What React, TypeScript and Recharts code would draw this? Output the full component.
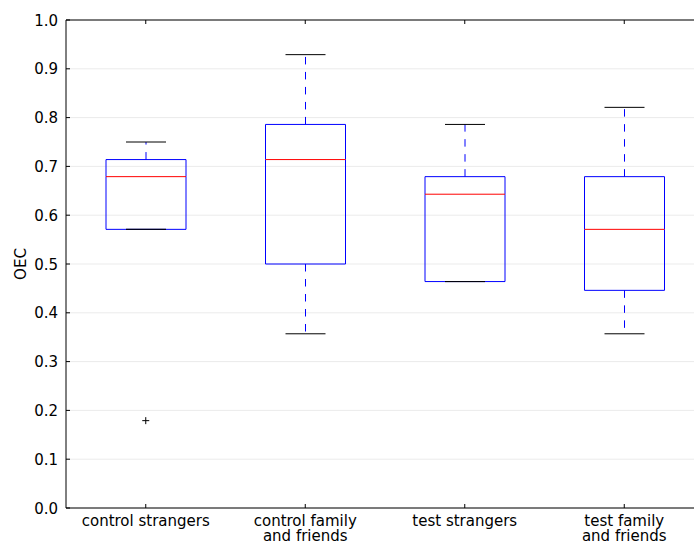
// Box plot of OEC by group (recharts, stacked bars drawn as boxes)
import React from 'react';
import { ComposedChart, Bar, Scatter, XAxis, YAxis, CartesianGrid } from 'recharts';

const categories = [
  'control strangers',
  'control family\nand friends',
  'test strangers',
  'test family\nand friends',
];
const whiskerLow = [0.571, 0.357, 0.464, 0.357];
const q1 = [0.571, 0.5, 0.464, 0.446];
const median = [0.679, 0.714, 0.643, 0.571];
const q3 = [0.714, 0.786, 0.679, 0.679];
const whiskerHigh = [0.75, 0.929, 0.786, 0.821];
const outliers: (number | null)[] = [0.179, null, null, null];
const yTicks = [0, 0.1, 0.2, 0.3, 0.4, 0.5, 0.6, 0.7, 0.8, 0.9, 1.0];

const BLUE = '#0000ff';
const RED = '#ff0000';
const INK = '#000000';
const GRID = '#ebebeb';
const FONT = '"DejaVu Sans", sans-serif';
const TICK_SIZE = 6;
const TICK_MARGIN = 2;
const INNER_TICK = 4;
const DASH = '7.5 7.5';

const rows = categories.map((name, i) => ({
  name,
  base: whiskerLow[i],
  lowWhisker: q1[i] - whiskerLow[i],
  lowBox: median[i] - q1[i],
  highBox: q3[i] - median[i],
  highWhisker: whiskerHigh[i] - q3[i],
  outlier: outliers[i],
}));

const Empty = () => <g />;

// min -> Q1, dash starts at the box
const LowWhisker = ({ x, y, width, height }: any) => {
  const cx = x + width / 2;
  return (
    <g>
      {height > 0 && (
        <line x1={cx} x2={cx} y1={y} y2={y + height} stroke={BLUE} strokeDasharray={DASH} />
      )}
      <line x1={cx - width / 4} x2={cx + width / 4} y1={y + height} y2={y + height} stroke={INK} />
    </g>
  );
};

// Q1 -> median (no top edge, the median line sits there)
const LowBox = ({ x, y, width, height, payload }: any) => {
  const cx = x + width / 2;
  const b = y + height;
  return (
    <g>
      <path d={`M${x},${y} L${x},${b} L${x + width},${b} L${x + width},${y}`} fill="none" stroke={BLUE} />
      {payload && payload.lowWhisker <= 0 && (
        <line x1={cx - width / 4} x2={cx + width / 4} y1={b} y2={b} stroke={INK} />
      )}
    </g>
  );
};

// median -> Q3, median line on the bottom edge
const HighBox = ({ x, y, width, height }: any) => {
  const b = y + height;
  return (
    <g>
      <path d={`M${x},${b} L${x},${y} L${x + width},${y} L${x + width},${b}`} fill="none" stroke={BLUE} />
      <line x1={x} x2={x + width} y1={b} y2={b} stroke={RED} />
    </g>
  );
};

// Q3 -> max
const HighWhisker = ({ x, y, width, height }: any) => {
  const cx = x + width / 2;
  return (
    <g>
      {height > 0 && (
        <line x1={cx} x2={cx} y1={y + height} y2={y} stroke={BLUE} strokeDasharray={DASH} />
      )}
      <line x1={cx - width / 4} x2={cx + width / 4} y1={y} y2={y} stroke={INK} />
    </g>
  );
};

const Flier = ({ cx, cy, payload }: any) => {
  if (!payload || payload.outlier == null) return <g />;
  return (
    <g stroke={INK}>
      <line x1={cx - 3.5} x2={cx + 3.5} y1={cy} y2={cy} />
      <line x1={cx} x2={cx} y1={cy - 3.5} y2={cy + 3.5} />
    </g>
  );
};

const XTick = ({ x, y, payload }: any) => {
  const axisY = y - TICK_SIZE - TICK_MARGIN;
  const lines = String(payload.value).split('\n');
  return (
    <g>
      <line x1={x} x2={x} y1={axisY} y2={axisY - INNER_TICK} stroke={INK} />
      <text textAnchor="middle" fontFamily={FONT} fontSize={15} fill={INK}>
        {lines.map((l, i) => (
          <tspan key={i} x={x} y={axisY + 17.5 + i * 15}>{l}</tspan>
        ))}
      </text>
    </g>
  );
};

const TopTick = ({ x, y }: any) => {
  const axisY = y + TICK_SIZE + TICK_MARGIN;
  return <line x1={x} x2={x} y1={axisY} y2={axisY + INNER_TICK} stroke={INK} />;
};

const YTick = ({ x, y, payload }: any) => {
  const axisX = x + TICK_SIZE + TICK_MARGIN;
  return (
    <g>
      <line x1={axisX} x2={axisX + INNER_TICK} y1={y} y2={y} stroke={INK} />
      <text x={x} y={y + 5.5} textAnchor="end" fontFamily={FONT} fontSize={15} fill={INK}>
        {Number(payload.value).toFixed(1)}
      </text>
    </g>
  );
};

const OecLabel = ({ viewBox }: any) => {
  const cx = (viewBox ? viewBox.x : 0) + 21;
  const cy = viewBox ? viewBox.y + viewBox.height / 2 : 264;
  return (
    <text
      x={cx}
      y={cy}
      transform={`rotate(-90 ${cx} ${cy})`}
      textAnchor="middle"
      dominantBaseline="central"
      fontFamily={FONT}
      fontSize={15}
      fill={INK}
    >
      OEC
    </text>
  );
};

export default function App() {
  return (
    <div
      style={{
        position: 'fixed',
        left: 0,
        top: 0,
        width: 694,
        height: 545,
        overflow: 'hidden',
        background: '#fff',
      }}
    >
      <ComposedChart
        width={710}
        height={545}
        data={rows}
        margin={{ top: 0, right: 6, bottom: 0, left: 0 }}
      >
        <CartesianGrid vertical={false} stroke={GRID} />
        <XAxis
          dataKey="name"
          height={37}
          interval={0}
          axisLine={{ stroke: INK }}
          tickLine={false}
          tickSize={TICK_SIZE}
          tickMargin={TICK_MARGIN}
          tick={<XTick />}
        />
        <XAxis
          xAxisId="top"
          dataKey="name"
          orientation="top"
          height={20}
          interval={0}
          axisLine={{ stroke: INK }}
          tickLine={false}
          tickSize={TICK_SIZE}
          tickMargin={TICK_MARGIN}
          tick={<TopTick />}
        />
        <YAxis
          type="number"
          domain={[0, 1]}
          ticks={yTicks}
          width={66}
          axisLine={{ stroke: INK }}
          tickLine={false}
          tickSize={TICK_SIZE}
          tickMargin={TICK_MARGIN}
          tick={<YTick />}
          label={<OecLabel />}
        />
        <Bar dataKey="base" stackId="box" barSize={80} shape={<Empty />} isAnimationActive={false} />
        <Bar dataKey="lowWhisker" stackId="box" barSize={80} shape={<LowWhisker />} isAnimationActive={false} />
        <Bar dataKey="lowBox" stackId="box" barSize={80} shape={<LowBox />} isAnimationActive={false} />
        <Bar dataKey="highBox" stackId="box" barSize={80} shape={<HighBox />} isAnimationActive={false} />
        <Bar dataKey="highWhisker" stackId="box" barSize={80} shape={<HighWhisker />} isAnimationActive={false} />
        <Scatter dataKey="outlier" shape={<Flier />} isAnimationActive={false} />
      </ComposedChart>
    </div>
  );
}
